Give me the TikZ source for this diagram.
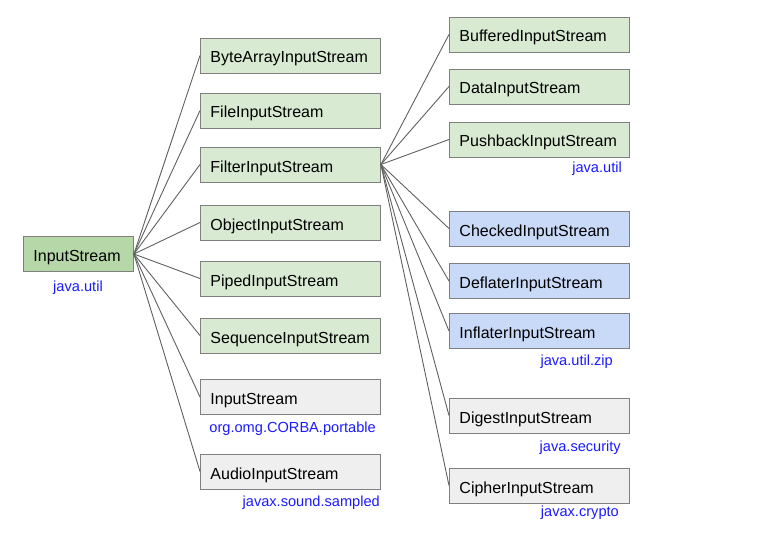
\documentclass[tikz,border=0pt]{standalone}
\usepackage{fontspec}
\setmainfont{Liberation Sans}
\definecolor{gfill}{HTML}{D9EAD3}
\definecolor{rootfill}{HTML}{B6D7A8}
\definecolor{bfill}{HTML}{C9DAF8}
\definecolor{grfill}{HTML}{EFEFEF}
\definecolor{bord}{HTML}{7F7F7F}
\definecolor{linec}{HTML}{606060}
\definecolor{pkg}{HTML}{1A1AFF}
\begin{document}
\begin{tikzpicture}[x=1pt,y=-1pt,
  box/.style={draw=bord, line width=0.9pt, minimum height=35pt, inner xsep=10pt, inner ysep=0pt,
    text height=15pt, text depth=0pt,
    align=left, anchor=west, font=\fontsize{16}{18}\selectfont},
  col2/.style={box, text width=160pt},
  col3/.style={box, text width=160pt},
  pkglabel/.style={text=pkg, inner sep=0pt, font=\fontsize{14.6}{18}\selectfont},
  conn/.style={draw=linec, line width=0.9pt}]
\useasboundingbox (0,0) rectangle (774,559);
% root
\node[box, fill=rootfill, text width=90pt] (root) at (23,254) {InputStream};
\node[pkglabel] (lroot) at (78,288) {java.util};
% column 2
\node[col2, fill=gfill] (ba) at (200,55.5) {ByteArrayInputStream};
\node[col2, fill=gfill] (fi) at (200,110.5) {FileInputStream};
\node[col2, fill=gfill] (flt) at (200,164.5) {FilterInputStream};
\node[col2, fill=gfill] (ob) at (200,222.5) {ObjectInputStream};
\node[col2, fill=gfill] (pi) at (200,278.5) {PipedInputStream};
\node[col2, fill=gfill] (se) at (200,335.5) {SequenceInputStream};
\node[col2, fill=grfill] (corba) at (200,397) {InputStream};
\node[pkglabel, anchor=east] (lcorba) at (376,429) {org.omg.CORBA.portable};
\node[col2, fill=grfill] (au) at (200,471.5) {AudioInputStream};
\node[pkglabel, anchor=east] (lau) at (380,503) {javax.sound.sampled};
% column 3
\node[col3, fill=gfill] (bu) at (449,34.5) {BufferedInputStream};
\node[col3, fill=gfill] (da) at (449,86.5) {DataInputStream};
\node[col3, fill=gfill] (pu) at (449,139.5) {PushbackInputStream};
\node[pkglabel, anchor=east] (lpu) at (622,169) {java.util};
\node[col3, fill=bfill] (ch) at (449,228.5) {CheckedInputStream};
\node[col3, fill=bfill] (de) at (449,281) {DeflaterInputStream};
\node[col3, fill=bfill] (inf) at (449,331) {InflaterInputStream};
\node[pkglabel, anchor=east] (lzip) at (613,362) {java.util.zip};
\node[col3, fill=grfill] (di) at (449,415.5) {DigestInputStream};
\node[pkglabel, anchor=east] (lsec) at (621,448) {java.security};
\node[col3, fill=grfill] (ci) at (449,485.5) {CipherInputStream};
\node[pkglabel, anchor=east] (lcr) at (619,513) {javax.crypto};
% connectors
\foreach \t in {ba,fi,flt,ob,pi,se,corba,au}
  \draw[conn] (root.east) -- (\t.west);
\foreach \t in {bu,da,pu,ch,de,inf,di,ci}
  \draw[conn] (flt.east) -- (\t.west);
\end{tikzpicture}
\end{document}
